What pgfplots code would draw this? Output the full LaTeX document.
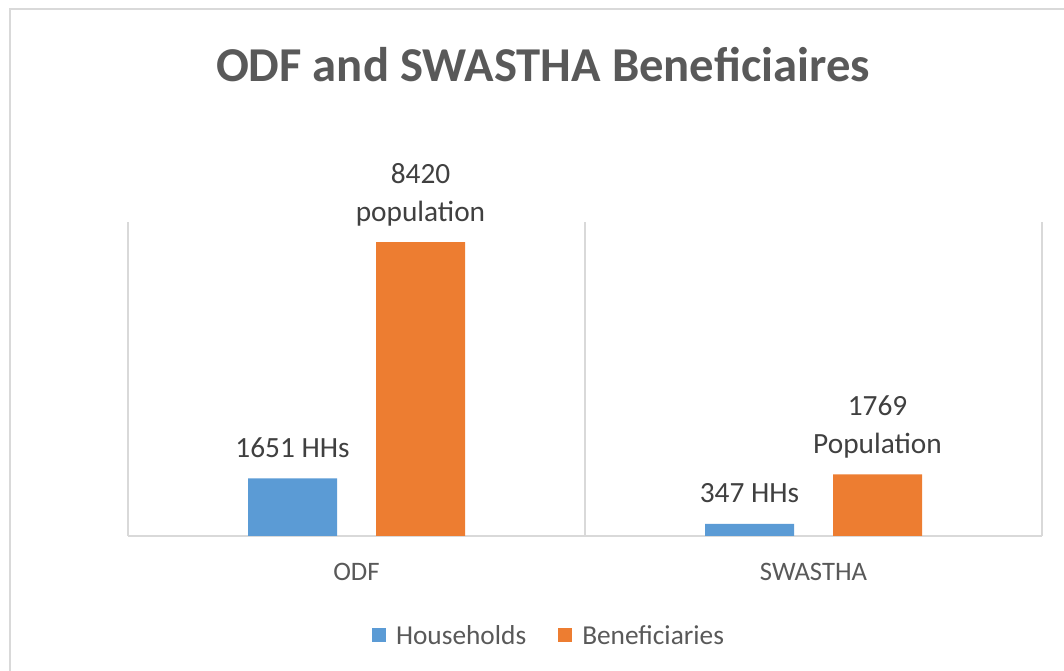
\documentclass[border=0pt]{standalone}
\usepackage{fontspec}
\setmainfont{Carlito}
\usepackage{pgfplots}
\pgfplotsset{compat=1.18}

\definecolor{hhblue}{RGB}{91,155,213}
\definecolor{benorange}{RGB}{237,125,49}
\definecolor{gridgray}{RGB}{217,217,217}
\definecolor{titlegray}{RGB}{89,89,89}
\definecolor{labelgray}{RGB}{64,64,64}

\begin{document}
\begin{tikzpicture}
% page = 1064 x 671 px, 1 px = 0.75pt
\useasboundingbox (0,0) rectangle (798pt,503.25pt);
\draw[gridgray, line width=1.4pt] (7.5pt,496.5pt) rectangle (830pt,-30pt);

\node[anchor=base, text=titlegray, font=\fontsize{36.5}{44}\selectfont\bfseries]
  at (407.25pt,441.75pt) {ODF and SWASTHA Beneficiaires};

\begin{axis}[
  at={(96pt,101.25pt)},
  anchor=south west,
  scale only axis,
  width=685.5pt,
  height=235.5pt,
  xmin=-0.5, xmax=1.5,
  ymin=0, ymax=9000,
  axis x line*=bottom,
  axis y line=none,
  axis line style={draw=gridgray, line width=1.1pt},
  xtick={0,1},
  xticklabels={ODF,SWASTHA},
  minor xtick={-0.5,0.5,1.5},
  xminorgrids,
  minor grid style={gridgray, line width=1.1pt},
  ytick=\empty,
  major tick length=0pt,
  minor tick length=0pt,
  xticklabel style={anchor=base, yshift=-33.4pt, text=titlegray,
    font=\fontsize{20}{24}\selectfont},
  legend columns=2,
  legend style={
    at={(0.4595,-0.302)},
    anchor=center,
    draw=none,
    fill=none,
    font=\fontsize{20.5}{24}\selectfont,
    text=titlegray,
    nodes={inner sep=0pt},
    /tikz/every odd column/.style={column sep=7.5pt},
    /tikz/every even column/.style={column sep=24pt},
  },
  legend image code/.code={%
    \path[fill=none, draw=none] (0pt,-4.25pt) rectangle (10.5pt,16pt);
    \fill[#1] (0pt,-4.25pt) rectangle (10.5pt,6.25pt);},
  every node near coord/.append style={anchor=base, yshift=15.75pt,
    inner sep=0pt, text=labelgray, font=\fontsize{22}{28.5}\selectfont},
  nodes near coords={\begin{tabular}[b]{@{}c@{}}\pgfplotspointmeta\end{tabular}},
]
\addplot[ybar, bar width=66.75pt, bar shift=-48pt, fill=hhblue, draw=none,
  point meta=explicit symbolic,
  every node near coord/.append style={xshift=-48pt}]
coordinates {
(0,1651) [1651 HHs]
(1,347) [347 HHs]
};
\addlegendentry{Households}
\addplot[ybar, bar width=66.75pt, bar shift=48pt, fill=benorange, draw=none,
  point meta=explicit symbolic,
  every node near coord/.append style={xshift=48pt}]
coordinates {
(0,8420) [{8420\\population}]
(1,1769) [{1769\\Population}]
};
\addlegendentry{Beneficiaries}
\end{axis}
\end{tikzpicture}
\end{document}
